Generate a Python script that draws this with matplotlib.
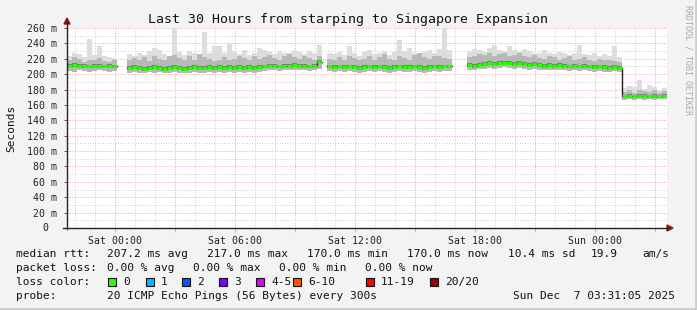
import numpy as np
import matplotlib
matplotlib.use("Agg")
import matplotlib.pyplot as plt
from matplotlib.lines import Line2D
from matplotlib.patches import Polygon, Rectangle

# --- data: 15 min samples, hours relative to Sat 00:00, None = no data ---
T_START, STEP = -2.4, 0.25
GAP = None

median = [211, 212, 211, 211, 210, 211, 211, 210, 211, 210,
          GAP, GAP,
          208, 209, 208, 207, 208, 209, 208, 207, 208, 209,
          208, 207, 208, 209, 208, 208, 209, 208, 209, 208,
          209, 208, 209, 208, 209, 208, 209, 210, 211, 211,
          210, 211, 211, 212, 211, 211, 210, 211, 216,
          GAP,
          210, 209, 210, 209, 210, 209, 208, 209, 210, 209,
          210, 209, 208, 209, 210, 209, 209, 210, 209, 208,
          209, 210, 209, 210, 210,
          GAP, GAP, GAP,
          212, 211, 212, 213, 214, 213, 214, 215, 214, 213,
          214, 213, 212, 213, 212, 211, 212, 211, 212, 211,
          210, 211, 210, 211, 210, 209, 210, 209, 208, 209, 208,
          171, 172, 171, 172, 172, 171, 172, 171, 172]

smoke_lo = [204, 203, 205, 204, 203, 204, 205, 204, 203, 204,
            GAP, GAP,
            202, 203, 202, 201, 203, 202, 203, 201, 202, 203,
            202, 201, 202, 203, 202, 202, 203, 202, 203, 202,
            203, 202, 203, 202, 203, 202, 203, 204, 205, 205,
            204, 205, 205, 206, 205, 205, 204, 205, 207,
            GAP,
            204, 203, 204, 203, 204, 203, 202, 203, 204, 203,
            204, 203, 202, 203, 204, 203, 203, 204, 203, 202,
            203, 204, 203, 204, 204,
            GAP, GAP, GAP,
            205, 206, 207, 207, 208, 207, 208, 209, 208, 207,
            208, 207, 206, 207, 206, 205, 206, 205, 206, 205,
            204, 205, 204, 205, 204, 203, 204, 203, 203, 204, 203,
            167, 168, 167, 168, 167, 168, 167, 168, 168]

smoke_hi = [218, 222, 220, 216, 219, 218, 221, 217, 216, 218,
            GAP, GAP,
            218, 221, 219, 222, 217, 224, 220, 218, 223, 225,
            221, 219, 224, 218, 226, 222, 220, 217, 219, 222,
            218, 220, 223, 221, 219, 224, 220, 222, 225, 221,
            219, 223, 226, 222, 220, 224, 221, 219, 224,
            GAP,
            220, 218, 222, 219, 224, 221, 218, 220, 223, 219,
            222, 226, 220, 218, 224, 221, 219, 225, 227, 222,
            220, 224, 223, 221, 220,
            GAP, GAP, GAP,
            222, 224, 226, 225, 227, 223, 226, 228, 224, 225,
            227, 223, 222, 225, 221, 220, 224, 222, 219, 221,
            223, 218, 220, 222, 219, 217, 220, 218, 219, 217, 216,
            177, 179, 176, 180, 178, 177, 179, 176, 178]

smoke_max = [224, 228, 226, 222, 246, 225, 236, 224, 222, 221,
             GAP, GAP,
             226, 224, 228, 225, 230, 234, 231, 226, 224, 260,
             229, 225, 230, 227, 226, 255, 228, 236, 237, 228,
             240, 229, 226, 232, 225, 227, 234, 232, 229, 226,
             230, 228, 227, 231, 229, 226, 230, 228, 238,
             GAP,
             228, 226, 229, 225, 237, 227, 224, 229, 232, 226,
             228, 230, 225, 229, 244, 230, 234, 228, 226, 229,
             231, 228, 233, 260, 231,
             GAP, GAP, GAP,
             230, 233, 231, 229, 234, 238, 232, 230, 236, 231,
             229, 233, 230, 228, 227, 232, 228, 226, 229, 227,
             225, 228, 238, 226, 225, 227, 224, 226, 223, 236, 222,
             182, 184, 183, 192, 181, 186, 183, 180, 182]

y_ticks = list(range(20, 261, 20))
x_label_hours = [0, 6, 12, 18, 24]
x_labels = ["Sat 00:00", "Sat 06:00", "Sat 12:00", "Sat 18:00", "Sun 00:00"]

loss_names = ["0", "1", "2", "3", "4-5", "6-10", "11-19", "20/20"]
loss_colors = ["#26ff00", "#00b8ff", "#0059ff", "#7e00ff", "#dd00ff",
               "#ff5500", "#ff0000", "#a10000"]

W, H = 697, 310
MONO = "DejaVu Sans Mono"


def fx(x):
    return x / W


def fy(y):
    return 1 - y / H


def steps(vals):
    # each sample covers [t, t + STEP) like rrdtool draws it
    a = np.array(vals, dtype=float)
    return np.repeat(a, 2)


t0 = T_START + STEP * np.arange(len(median))
tt = np.column_stack([t0, t0 + STEP]).ravel()
med, lo, hi, mx = steps(median), steps(smoke_lo), steps(smoke_hi), steps(smoke_max)
ok = ~np.isnan(med)

fig = plt.figure(figsize=(W / 100, H / 100), dpi=100, facecolor="#f3f3f3")
ax = fig.add_axes([fx(67), fy(228), 600 / W, 200 / H])
ax.set_facecolor("white")
ax.set_xlim(T_START, T_START + 30)
ax.set_ylim(0, 260)

# grid, rrdtool style
dot = (0, (1, 1.6))
for h in range(-2, 28):
    major = h % 3 == 0
    ax.axvline(h, color="#f0a0a0" if major else "#cdcdcd", lw=0.7, ls=dot, zorder=0)
for v in range(10, 261, 10):
    major = v % 20 == 0
    ax.axhline(v, color="#f0a0a0" if major else "#cdcdcd", lw=0.7, ls=dot, zorder=0)

# smoke
ax.fill_between(tt, lo, mx, where=ok, color="#dddddd", lw=0, zorder=1)
ax.fill_between(tt, lo, hi, where=ok, color="#b8b8b8", lw=0, zorder=2)
ax.fill_between(tt, med - 2.5, med + 2.5, where=ok, color="#7a7a7a", lw=0, zorder=3)

# median: black line, green (0 loss) dashes
ax.plot(tt, med, color="#202020", lw=1.0, zorder=4)
ax.hlines(med[::2], tt[::2], tt[1::2], color="#26ff00", lw=2.3, zorder=5)

for s in ax.spines.values():
    s.set_visible(False)
ax.set_yticks(y_ticks, [f"{v} m" for v in y_ticks])
ax.set_xticks(range(0, 28, 3),
              [x_labels[x_label_hours.index(h)] if h in x_label_hours else "" for h in range(0, 28, 3)])
ax.tick_params(axis="y", length=2, width=0.7, color="#555555", pad=5, labelsize=7.1)
ax.tick_params(axis="x", length=3, width=0.7, color="#f0a0a0", pad=3, labelsize=7.1)
for lab in ax.get_xticklabels() + ax.get_yticklabels():
    lab.set_fontfamily(MONO)
    lab.set_color("#222222")
fig.text(fx(48), fy(228), "0", ha="right", va="center", family=MONO, size=7.1, color="#222222")

# axes with arrows
fig.add_artist(Line2D([fx(67), fx(67)], [fy(229), fy(22)], color="#222222", lw=1))
fig.add_artist(Line2D([fx(63), fx(668)], [fy(228), fy(228)], color="#222222", lw=1))
fig.add_artist(Polygon([(fx(64), fy(24)), (fx(70), fy(24)), (fx(67), fy(18))],
                       closed=True, color="#8b1a1a", transform=fig.transFigure))
fig.add_artist(Polygon([(fx(667), fy(225)), (fx(667), fy(231)), (fx(673), fy(228))],
                       closed=True, color="#8b1a1a", transform=fig.transFigure))

# frame
fig.add_artist(Line2D([0, 1], [fy(309), fy(309)], color="#cfcfcf", lw=2))
fig.add_artist(Line2D([fx(696), fx(696)], [0, 1], color="#cfcfcf", lw=2))

fig.text(fx(348), fy(19), "Last 30 Hours from starping to Singapore Expansion",
         ha="center", va="center", family=MONO, size=9.5, color="#111111")
fig.text(fx(11), fy(128), "Seconds", rotation=90, ha="center", va="center",
         family=MONO, size=8.0, color="#111111")
fig.text(fx(688), fy(5), "RRDTOOL / TOBI OETIKER", rotation=270, ha="center", va="top",
         family=MONO, size=6.0, color="#a8a8a8")


def leg(x, y, s):
    fig.text(fx(x), fy(y), s, ha="left", va="center", family=MONO, size=8.0, color="#111111")


leg(16, 254, "median rtt:")
for x, s in zip([107, 207, 307, 407, 508, 591, 642],
                ["207.2 ms avg", "217.0 ms max", "170.0 ms min", "170.0 ms now",
                 "10.4 ms sd", "19.9", "am/s"]):
    leg(x, 254, s)

leg(16, 268, "packet loss:")
for x, s in zip([107, 193, 279, 365],
                ["0.00 % avg", "0.00 % max", "0.00 % min", "0.00 % now"]):
    leg(x, 268, s)

leg(16, 282, "loss color:")
box_x = [108, 146, 182, 219, 256, 293, 366, 430]
for bx, name, c in zip(box_x, loss_names, loss_colors):
    fig.add_artist(Rectangle((fx(bx), fy(286)), 8 / W, 8 / H, transform=fig.transFigure,
                             facecolor=c, edgecolor="#111111", lw=0.8))
    leg(bx + 15, 282, name)

leg(16, 296, "probe:")
leg(107, 296, "20 ICMP Echo Pings (56 Bytes) every 300s")
leg(513, 296, "Sun Dec  7 03:31:05 2025")

fig.savefig("out.png", dpi=100, facecolor=fig.get_facecolor())
